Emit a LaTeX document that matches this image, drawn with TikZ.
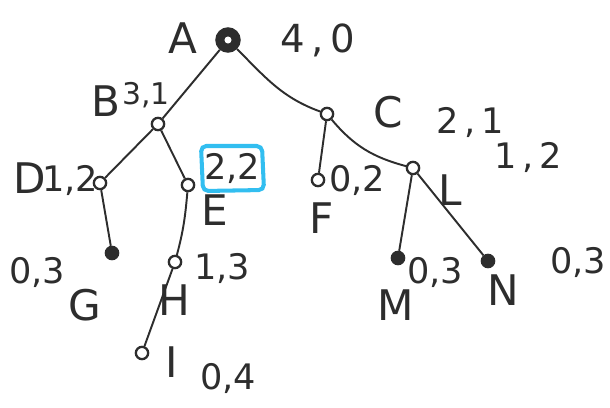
\documentclass[tikz,border=0pt]{standalone}
\usepackage{fontspec}
\setmainfont{DejaVu Sans}
\definecolor{ink}{RGB}{45,45,45}
\definecolor{marker}{RGB}{50,190,240}
\begin{document}
\begin{tikzpicture}[x=0.02cm, y=-0.02cm, every node/.style={font=\fontsize{20}{22}\selectfont, text=ink},
  leaf/.style={draw=ink, circle, line width=1.3pt, inner sep=0pt, minimum size=7pt},
  tag/.style={font=\fontsize{24}{26}\selectfont},
  edge/.style={draw=ink, line width=1.1pt}]
\useasboundingbox (0,0) rectangle (610,407);

% vertices
\node[draw=ink, fill=ink, circle, line width=1.5pt, inner sep=0pt, minimum size=13pt] (a) at (228,40) {};
\node[leaf] (b) at (158,124) {};
\node[leaf] (c) at (327,114) {};
\node[leaf] (d) at (100,183) {};
\node[leaf] (e) at (188,185) {};
\node[leaf] (f) at (318,180) {};
\node[leaf] (l) at (413,168) {};
\node[leaf, fill=ink] (g) at (112,253) {};
\node[leaf] (h) at (175,262) {};
\node[leaf] (i) at (142,353) {};
\node[leaf, fill=ink] (m) at (398,258) {};
\node[leaf, fill=ink] (n) at (488,261) {};
\node[circle, fill=white, inner sep=0pt, minimum size=4pt] at (a) {};

% labels
\node[tag] (la) at (183,38) {A};
\node[font=\fontsize{22}{24}\selectfont] (pa) at (318,40) {4\,,\,0};
\node[tag] (lb) at (106,101) {B};
\node[font=\fontsize{17}{19}\selectfont] (pb) at (146,95) {3,1};
\node[tag] (lc) at (388,112) {C};
\node (pc1) at (470,122) {2\,,\,1};
\node (pc2) at (528,157) {1\,,\,2};
\node[tag] (ld) at (30,178) {D};
\node (pd) at (70,180) {1,2};
\node[tag] (le) at (215,210) {E};
\node (pe) at (232,168) {2,2};
\node[tag] (lf) at (322,218) {F};
\node (pf) at (357,180) {0,2};
\node[tag] (ll) at (450,190) {L};
\node[tag] (lg) at (85,305) {G};
\node (pg) at (37,272) {0,3};
\node[tag] (lh) at (174,300) {H};
\node (ph) at (222,268) {1,3};
\node[tag] (li) at (172,362) {I};
\node (pi) at (228,378) {0,4};
\node[tag] (lm) at (396,305) {M};
\node (pm) at (435,272) {0,3};
\node[tag] (ln) at (503,290) {N};
\node (pn) at (578,262) {0,3};

% highlighted payoff
\draw[marker, line width=2.3pt, rounded corners=3pt] (201,146) -- (262,146) -- (264,190) -- (203,191) -- cycle;

% edges
\draw[edge] (a) -- (b);
\draw[edge] (a) to[out=-45, in=160] (c);
\draw[edge] (b) -- (d);
\draw[edge] (b) -- (e);
\draw[edge] (c) -- (f);
\draw[edge] (c) to[out=-50, in=165] (l);
\draw[edge] (d) -- (g);
\draw[edge] (e) to[out=-95, in=75] (h);
\draw[edge] (h) -- (i);
\draw[edge] (l) -- (m);
\draw[edge] (l) -- (n);
\end{tikzpicture}
\end{document}
